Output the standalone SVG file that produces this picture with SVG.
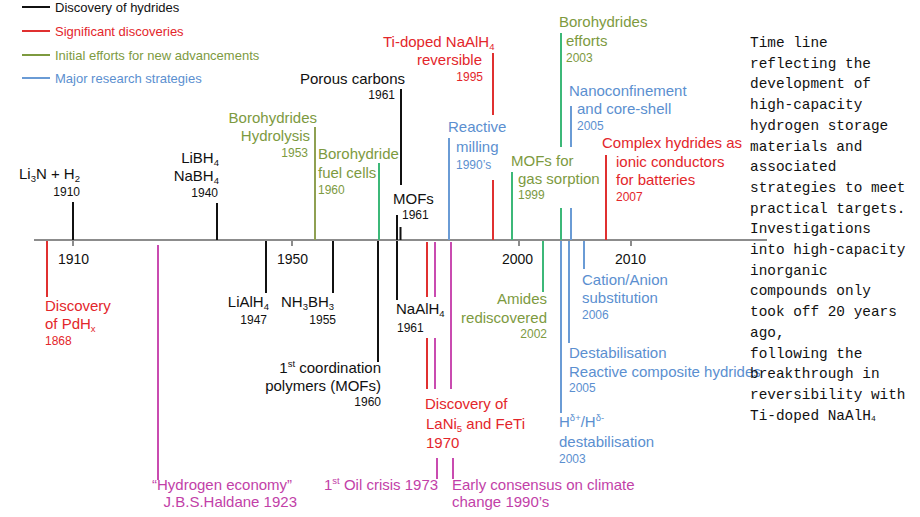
<svg xmlns="http://www.w3.org/2000/svg" width="920" height="517" viewBox="0 0 920 517">
<style>
text{font-family:"Liberation Sans",Arial,sans-serif;font-size:15px}
.yr{font-size:12px}
.ax{font-size:14px;fill:#111}
.lg{font-size:13px}
.k{fill:#111}.r{fill:#e3262b}.o{fill:#7d9a3f}.b{fill:#5b8fd0}.m{fill:#c23fa8}
.lk{stroke:#111}.lr{stroke:#e03030}.lo{stroke:#8fa052}.lgr{stroke:#3cb878}.lb{stroke:#6a9bd5}.lm{stroke:#c94bb0}
line{stroke-width:2}
.e{text-anchor:end}
.sb{font-size:9.5px}
.note{font-family:"Liberation Mono","Courier New",monospace;font-size:14.4px;fill:#111}
</style>
<rect width="920" height="517" fill="#fff"/>
<g id="legend">
<line x1="22" y1="7" x2="50" y2="7" class="lk"/><text x="55" y="11.5" class="lg k">Discovery of hydrides</text>
<line x1="22" y1="31" x2="50" y2="31" class="lr"/><text x="55" y="35.5" class="lg r">Significant discoveries</text>
<line x1="22" y1="55" x2="50" y2="55" stroke="#7d9a3f"/><text x="55" y="59.5" class="lg o">Initial efforts for new advancements</text>
<line x1="22" y1="78" x2="50" y2="78" class="lb"/><text x="55" y="82.5" class="lg b">Major research strategies</text>
</g>
<g id="axis">
<line x1="34" y1="240" x2="767" y2="240" stroke="#8c8c8c" stroke-width="3"/>
<g stroke="#8c8c8c" stroke-width="2"><line x1="73" y1="240" x2="73" y2="246"/><line x1="292" y1="240" x2="292" y2="246"/><line x1="519" y1="240" x2="519" y2="246"/><line x1="631" y1="240" x2="631" y2="246"/></g>
<text x="58" y="264" class="ax">1910</text><text x="277" y="264" class="ax">1950</text><text x="502" y="264" class="ax">2000</text><text x="615" y="264" class="ax">2010</text>
</g>
<g id="connectors">
<line x1="73" y1="202" x2="73" y2="240" class="lk"/>
<line x1="217" y1="203" x2="217" y2="240" class="lk"/>
<line x1="401" y1="89" x2="401" y2="185" class="lk"/>
<line x1="397" y1="215" x2="397" y2="240" class="lk"/>
<line x1="400.5" y1="227" x2="400.5" y2="240" class="lk"/>
<line x1="266" y1="241" x2="266" y2="293" class="lk"/>
<line x1="333" y1="241" x2="333" y2="293" class="lk"/>
<line x1="378" y1="241" x2="378" y2="362" class="lk"/>
<line x1="397" y1="241" x2="397" y2="300" class="lk"/>
<line x1="315" y1="127" x2="315" y2="240" class="lo"/>
<line x1="379" y1="163" x2="379" y2="240" class="lgr"/>
<line x1="512" y1="172" x2="512" y2="240" class="lgr"/>
<line x1="561" y1="33" x2="561" y2="147" class="lgr"/>
<line x1="561" y1="208" x2="561" y2="240" class="lgr"/>
<line x1="543" y1="241" x2="543" y2="292" class="lgr"/>
<line x1="493" y1="53" x2="493" y2="115" class="lr"/>
<line x1="493" y1="180" x2="493" y2="240" class="lr"/>
<line x1="606" y1="155" x2="606" y2="240" class="lr"/>
<line x1="47" y1="241" x2="47" y2="297" class="lr"/>
<line x1="427" y1="242" x2="427" y2="297" class="lr"/>
<line x1="427" y1="338" x2="427" y2="389" class="lr"/>
<line x1="449" y1="138" x2="449" y2="240" class="lb"/>
<line x1="571" y1="106" x2="571" y2="147" class="lb"/>
<line x1="571" y1="208" x2="571" y2="240" class="lb"/>
<line x1="584" y1="241" x2="584" y2="269" class="lb"/>
<line x1="569" y1="241" x2="569" y2="343" class="lb"/>
<line x1="561" y1="241" x2="561" y2="413" class="lb"/>
<line x1="158" y1="245" x2="158" y2="480" class="lm"/>
<line x1="435" y1="242" x2="435" y2="297" class="lm"/>
<line x1="435" y1="338" x2="435" y2="389" class="lm"/>
<line x1="437" y1="458" x2="437" y2="479" class="lm"/>
<line x1="451" y1="242" x2="451" y2="389" class="lm"/>
<line x1="453" y1="458" x2="453" y2="479" class="lm"/>
</g>
<g id="n-li3n"><text x="80" y="179" class="k e">Li<tspan dy="3" class="sb">3</tspan><tspan dy="-3">N + H</tspan><tspan dy="3" class="sb">2</tspan></text><text x="80" y="196" class="yr k e">1910</text></g>
<g id="n-libh4"><text x="219" y="163" class="k e">LiBH<tspan dy="3" class="sb">4</tspan></text><text x="219" y="181" class="k e">NaBH<tspan dy="3" class="sb">4</tspan></text><text x="218" y="197" class="yr k e">1940</text></g>
<g id="n-hydrolysis"><text x="317" y="123" class="o e">Borohydrides</text><text x="310" y="141" class="o e">Hydrolysis</text><text x="308" y="157" class="yr o e">1953</text></g>
<g id="n-fuelcells"><text x="318" y="159" class="o">Borohydride</text><text x="318" y="178" class="o">fuel cells</text><text x="318" y="194" class="yr o">1960</text></g>
<g id="n-porous"><text x="300" y="84" class="k">Porous carbons</text><text x="395" y="99" class="yr k e">1961</text></g>
<g id="n-mofs"><text x="393" y="204" class="k">MOFs</text><text x="402" y="219" class="yr k">1961</text></g>
<g id="n-tidoped"><text x="383" y="47" class="r">Ti-doped NaAlH<tspan dy="3" class="sb">4</tspan></text><text x="482" y="65" class="r e">reversible</text><text x="483" y="81" class="yr r e">1995</text></g>
<g id="n-milling"><text x="448" y="132" class="b">Reactive</text><text x="456" y="152" class="b">milling</text><text x="456" y="169" class="yr b">1990’s</text></g>
<g id="n-boroefforts"><text x="559" y="27" class="o">Borohydrides</text><text x="566" y="46" class="o">efforts</text><text x="566" y="62" class="yr o">2003</text></g>
<g id="n-nano"><text x="569" y="96" class="b">Nanoconfinement</text><text x="577" y="114" class="b">and core-shell</text><text x="577" y="130" class="yr b">2005</text></g>
<g id="n-mofsgas"><text x="511" y="166" class="o">MOFs for</text><text x="518" y="184" class="o">gas sorption</text><text x="518" y="199" class="yr o">1999</text></g>
<g id="n-complex"><text x="602" y="148" class="r">Complex hydrides as</text><text x="616" y="167" class="r">ionic conductors</text><text x="616" y="185" class="r">for batteries</text><text x="616" y="201" class="yr r">2007</text></g>
<g id="n-pdhx"><text x="45" y="311" class="r">Discovery</text><text x="45" y="329" class="r">of PdH<tspan dy="3" class="sb">x</tspan></text><text x="45" y="345" class="yr r">1868</text></g>
<g id="n-lialh4"><text x="269" y="307" class="k e">LiAlH<tspan dy="3" class="sb">4</tspan></text><text x="267" y="324" class="yr k e">1947</text></g>
<g id="n-nh3bh3"><text x="281" y="307" class="k">NH<tspan dy="3" class="sb">3</tspan><tspan dy="-3">BH</tspan><tspan dy="3" class="sb">3</tspan></text><text x="336" y="324" class="yr k e">1955</text></g>
<g id="n-coord"><text x="381" y="373" class="k e">1<tspan dy="-6" class="sb">st</tspan><tspan dy="6"> coordination</tspan></text><text x="381" y="391" class="k e">polymers (MOFs)</text><text x="381" y="406" class="yr k e">1960</text></g>
<g id="n-naalh4"><text x="396" y="314" class="k">NaAlH<tspan dy="3" class="sb">4</tspan></text><text x="397" y="332" class="yr k">1961</text></g>
<g id="n-lani5"><text x="425" y="409" class="r">Discovery of</text><text x="426" y="429" class="r">LaNi<tspan dy="3" class="sb">5</tspan><tspan dy="-3"> and FeTi</tspan></text><text x="426" y="448" class="r">1970</text></g>
<g id="n-amides"><text x="547" y="304" class="o e">Amides</text><text x="547" y="323" class="o e">rediscovered</text><text x="547" y="338" class="yr o e">2002</text></g>
<g id="n-cation"><text x="582" y="285" class="b">Cation/Anion</text><text x="582" y="303" class="b">substitution</text><text x="582" y="319" class="yr b">2006</text></g>
<g id="n-destab"><text x="569" y="358" class="b">Destabilisation</text><text x="569" y="377" class="b">Reactive composite hydrides</text><text x="569" y="392" class="yr b">2005</text></g>
<g id="n-hdelta"><text x="559" y="427" class="b">H<tspan dy="-6" class="sb">δ+</tspan><tspan dy="6">/H</tspan><tspan dy="-6" class="sb">δ-</tspan></text><text x="559" y="447" class="b">destabilisation</text><text x="559" y="463" class="yr b">2003</text></g>
<g id="n-haldane"><text x="152" y="490" class="m">“Hydrogen economy”</text><text x="297" y="507" class="m e">J.B.S.Haldane 1923</text></g>
<g id="n-oil"><text x="324" y="490" class="m">1<tspan dy="-6" class="sb">st</tspan><tspan dy="6"> Oil crisis 1973</tspan></text></g>
<g id="n-climate"><text x="452" y="490" class="m">Early consensus on climate</text><text x="452" y="507" class="m">change 1990’s</text></g>
<g id="caption">
<text x="750" y="47" class="note">Time line</text>
<text x="750" y="67.7" class="note">reflecting the</text>
<text x="750" y="88.4" class="note">development of</text>
<text x="750" y="109.1" class="note">high-capacity</text>
<text x="750" y="129.8" class="note">hydrogen storage</text>
<text x="750" y="150.5" class="note">materials and</text>
<text x="750" y="171.2" class="note">associated</text>
<text x="750" y="191.9" class="note">strategies to meet</text>
<text x="750" y="212.6" class="note">practical targets.</text>
<text x="750" y="233.3" class="note">Investigations</text>
<text x="750" y="254" class="note">into high-capacity</text>
<text x="750" y="274.7" class="note">inorganic</text>
<text x="750" y="295.4" class="note">compounds only</text>
<text x="750" y="316.1" class="note">took off 20 years</text>
<text x="750" y="336.8" class="note">ago,</text>
<text x="750" y="357.5" class="note">following the</text>
<text x="750" y="378.2" class="note">breakthrough in</text>
<text x="750" y="398.9" class="note">reversibility with</text>
<text x="750" y="419.6" class="note">Ti-doped NaAlH<tspan font-size="8" dy="1">4</tspan></text>
</g>
</svg>
